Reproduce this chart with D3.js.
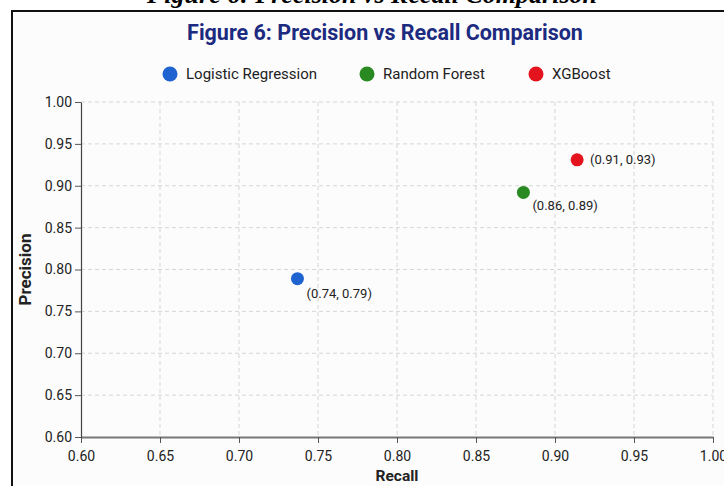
<!DOCTYPE html>
<html>
<head>
<meta charset="utf-8">
<script src="https://cdn.jsdelivr.net/npm/d3@7"></script>
<style>
  body { margin: 0; background: #fff; }
  svg { display: block; font-family: Roboto, "Liberation Sans", Arial, sans-serif; }
</style>
</head>
<body>
<div id="chart"></div>
<script>
// model results as plotted
const models = ["Logistic Regression", "Random Forest", "XGBoost"];
const recall = [0.737, 0.880, 0.914];
const precision = [0.789, 0.892, 0.931];
const pointLabels = ["(0.74, 0.79)", "(0.86, 0.89)", "(0.91, 0.93)"];
const colors = ["#1f63d0", "#2a8a22", "#e3141d"];
const xTicks = [0.60, 0.65, 0.70, 0.75, 0.80, 0.85, 0.90, 0.95, 1.00];
const yTicks = [0.60, 0.65, 0.70, 0.75, 0.80, 0.85, 0.90, 0.95, 1.00];

const width = 724, height = 486;
const margin = { top: 102, right: 11, bottom: 49, left: 81 };

const svg = d3.select("#chart").append("svg")
  .attr("width", width)
  .attr("height", height);

// caption above the frame (cut off at the top, as in the source scan)
svg.append("text")
  .attr("x", 372).attr("y", 3)
  .attr("text-anchor", "middle")
  .style("font-family", "'Liberation Serif', 'Times New Roman', serif")
  .style("font-style", "italic")
  .style("font-weight", "bold")
  .style("font-size", "26px")
  .text("Figure 6: Precision vs Recall Comparison");

// framed panel
svg.append("rect")
  .attr("x", 12).attr("y", 11)
  .attr("width", 760).attr("height", 520)
  .attr("fill", "#fcfcfc")
  .attr("stroke", "#111")
  .attr("stroke-width", 2);

svg.append("text")
  .attr("x", 385).attr("y", 40)
  .attr("text-anchor", "middle")
  .style("font-weight", "bold")
  .style("font-size", "21.5px")
  .attr("fill", "#1c2a80")
  .text("Figure 6: Precision vs Recall Comparison");

// legend
const legendX = [170, 367, 536];
const legend = svg.append("g").selectAll("g")
  .data(models)
  .join("g")
  .attr("transform", (d, i) => `translate(${legendX[i]},74)`);
legend.append("circle").attr("r", 7.5).attr("fill", (d, i) => colors[i]);
legend.append("text")
  .attr("x", 16).attr("dy", "0.35em")
  .style("font-size", "15px")
  .attr("fill", "#222")
  .text(d => d);

const x = d3.scaleLinear().domain([0.6, 1.0]).range([margin.left, width - margin.right]);
const y = d3.scaleLinear().domain([0.6, 1.0]).range([height - margin.bottom, margin.top]);

// grid
const grid = svg.append("g").attr("stroke", "#d6d6d6").attr("stroke-dasharray", "4,3");
grid.selectAll(".gx").data(xTicks.slice(1))
  .join("line")
  .attr("x1", d => x(d)).attr("x2", d => x(d))
  .attr("y1", y(1.0)).attr("y2", y(0.6));
grid.selectAll(".gy").data(yTicks.slice(1))
  .join("line")
  .attr("x1", x(0.6)).attr("x2", x(1.0))
  .attr("y1", d => y(d)).attr("y2", d => y(d));

// axes
const xAxis = svg.append("g")
  .attr("transform", `translate(0,${y(0.6)})`)
  .call(d3.axisBottom(x).tickValues(xTicks).tickFormat(d3.format(".2f")).tickSize(6).tickSizeOuter(0));
const yAxis = svg.append("g")
  .attr("transform", `translate(${x(0.6)},0)`)
  .call(d3.axisLeft(y).tickValues(yTicks).tickFormat(d3.format(".2f")).tickSize(6).tickSizeOuter(0));

[xAxis, yAxis].forEach(a => {
  a.selectAll("text")
    .style("font-family", "Roboto, 'Liberation Sans', sans-serif")
    .style("font-size", "14px")
    .attr("fill", "#222");
  a.selectAll("line").attr("stroke", "#555");
});
xAxis.select(".domain").attr("stroke", "#777").attr("stroke-width", 2);
yAxis.select(".domain").attr("stroke", "#444").attr("stroke-width", 1.2);
xAxis.selectAll("text").attr("dy", "1.05em");

svg.append("text")
  .attr("x", x(0.8)).attr("y", 481)
  .attr("text-anchor", "middle")
  .style("font-weight", "bold")
  .style("font-size", "15.5px")
  .attr("fill", "#222")
  .text("Recall");

svg.append("text")
  .attr("transform", `translate(31,${y(0.8)}) rotate(-90)`)
  .attr("text-anchor", "middle")
  .style("font-weight", "bold")
  .style("font-size", "17px")
  .attr("fill", "#222")
  .text("Precision");

// points
const pts = svg.append("g").selectAll("g")
  .data(models)
  .join("g");
pts.append("circle")
  .attr("cx", (d, i) => x(recall[i]))
  .attr("cy", (d, i) => y(precision[i]))
  .attr("r", 6.5)
  .attr("fill", (d, i) => colors[i]);

// label offsets: red beside the dot, others below-right
const labelDx = [9, 9, 13];
const labelDy = [15, 13, 0];
pts.append("text")
  .attr("x", (d, i) => x(recall[i]) + labelDx[i])
  .attr("y", (d, i) => y(precision[i]) + labelDy[i])
  .attr("dy", "0.35em")
  .style("font-size", "13px")
  .attr("fill", "#222")
  .text((d, i) => pointLabels[i]);
</script>
</body>
</html>
